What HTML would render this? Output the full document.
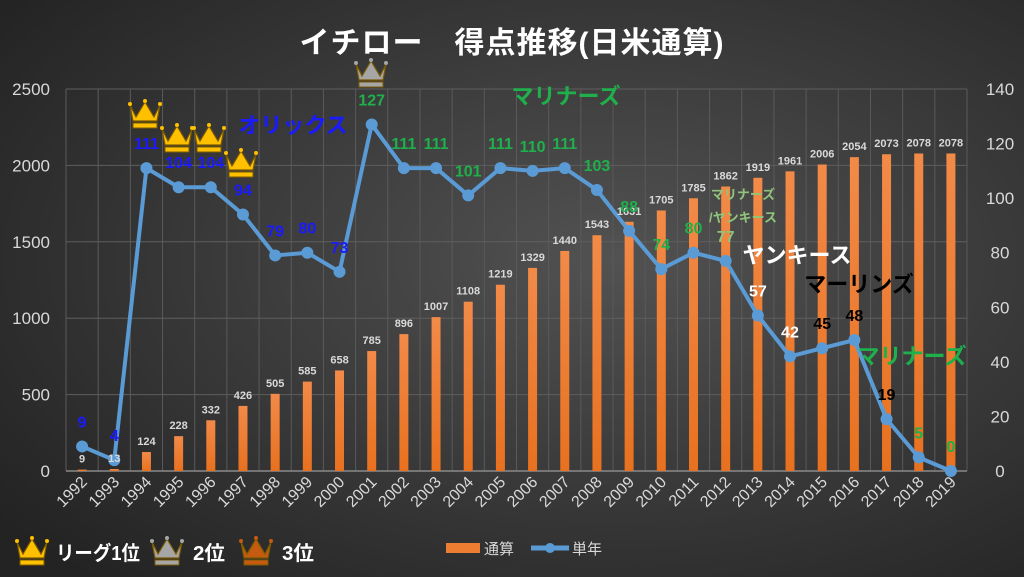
<!DOCTYPE html>
<html><head><meta charset="utf-8">
<style>
html,body{margin:0;padding:0;width:1024px;height:577px;overflow:hidden;background:#3a3a3a;}
svg{display:block;font-family:"Liberation Sans","Noto Sans CJK JP",sans-serif;}
</style></head>
<body>
<svg id="chart" width="1024" height="577" viewBox="0 0 1024 577">
<defs>
<radialGradient id="bg" cx="0.6" cy="0.45" r="0.75">
<stop offset="0" stop-color="#525252"/><stop offset="1" stop-color="#232323"/>
</radialGradient>
<linearGradient id="barg" x1="0" y1="0" x2="0" y2="1">
<stop offset="0" stop-color="#f28a48"/><stop offset="1" stop-color="#e8711f"/>
</linearGradient>
<g id="crown">
<path d="M-15,-8 L-9,4 L0,-11 L9,4 L15,-8 L12,8 L-12,8 Z" stroke="#7a5a00" stroke-width="1.2"/>
<circle cx="-15" cy="-9" r="2"/><circle cx="0" cy="-12" r="2"/><circle cx="15" cy="-9" r="2"/>
<rect x="-12" y="10" width="24" height="5" stroke="#7a5a00" stroke-width="1"/>
</g>
</defs>
<rect width="1024" height="577" fill="url(#bg)"/>
<text x="512" y="53" text-anchor="middle" font-size="30" font-weight="bold" fill="#fff" letter-spacing="1">イチロー　得点推移(日米通算)</text>
<g id="grid"></g><g id="bars"></g><g id="line"></g><g id="labels"></g><g id="axes"></g>
<g>
<text x="293" y="133" text-anchor="middle" font-size="22" font-weight="bold" fill="#1a1aff">オリックス</text>
<text x="566" y="104" text-anchor="middle" font-size="22" font-weight="bold" fill="#1fb04c">マリナーズ</text>
<text x="743" y="199" text-anchor="middle" font-size="13" font-weight="bold" fill="#8fc47a">マリナーズ</text>
<text x="743" y="222" text-anchor="middle" font-size="13" font-weight="bold" fill="#8fc47a">/ヤンキース</text>
<text x="797" y="263" text-anchor="middle" font-size="22" font-weight="bold" fill="#fff">ヤンキース</text>
<text x="859" y="292" text-anchor="middle" font-size="22" font-weight="bold" fill="#000">マーリンズ</text>
<text x="912" y="364" text-anchor="middle" font-size="22" font-weight="bold" fill="#1fb04c">マリナーズ</text>
</g>
<g>
<use href="#crown" x="145" y="113" fill="#ffc000"/>
<use href="#crown" x="177" y="137" fill="#ffc000"/>
<use href="#crown" x="209" y="137" fill="#ffc000"/>
<use href="#crown" x="241" y="162" fill="#ffc000"/>
<use href="#crown" x="371" y="72" fill="#a6a6a6"/>
</g>
<g>
<use href="#crown" x="32" y="550" fill="#ffc000"/>
<text x="56" y="560" font-size="20" font-weight="bold" fill="#fff" textLength="84" lengthAdjust="spacingAndGlyphs">リーグ1位</text>
<use href="#crown" x="167" y="550" fill="#a6a6a6"/>
<text x="193" y="560" font-size="20" font-weight="bold" fill="#fff" textLength="32" lengthAdjust="spacingAndGlyphs">2位</text>
<use href="#crown" x="256" y="550" fill="#c55a11"/>
<text x="282" y="560" font-size="20" font-weight="bold" fill="#fff" textLength="32" lengthAdjust="spacingAndGlyphs">3位</text>
</g>
<g>
<rect x="446" y="543" width="34" height="10" fill="#ed7d31"/>
<text x="484" y="554" font-size="15" fill="#d9d9d9">通算</text>
<line x1="531" y1="548" x2="569" y2="548" stroke="#5b9bd5" stroke-width="5"/>
<circle cx="550" cy="548" r="5" fill="#5b9bd5"/>
<text x="572" y="554" font-size="15" fill="#d9d9d9">単年</text>
</g>
</svg>
<script>
const years=[1992,1993,1994,1995,1996,1997,1998,1999,2000,2001,2002,2003,2004,2005,2006,2007,2008,2009,2010,2011,2012,2013,2014,2015,2016,2017,2018,2019];
const cumulative=[9,13,124,228,332,426,505,585,658,785,896,1007,1108,1219,1329,1440,1543,1631,1705,1785,1862,1919,1961,2006,2054,2073,2078,2078];
const annual=[9,4,111,104,104,94,79,80,73,127,111,111,101,111,110,111,103,88,74,80,77,57,42,45,48,19,5,0];
const annualColors=["#1a1aff","#1a1aff","#1a1aff","#1a1aff","#1a1aff","#1a1aff","#1a1aff","#1a1aff","#1a1aff","#1fb04c","#1fb04c","#1fb04c","#1fb04c","#1fb04c","#1fb04c","#1fb04c","#1fb04c","#1fb04c","#1fb04c","#1fb04c","#8fc47a","#fff","#fff","#000","#000","#000","#1fb04c","#1fb04c"];
const leftTicks=[0,500,1000,1500,2000,2500];
const rightTicks=[0,20,40,60,80,100,120,140];
const NS="http://www.w3.org/2000/svg";
const L=66,R=967,T=89,B=471;
const band=(R-L)/years.length;
const x=i=>L+band*(i+0.5);
const yL=v=>B-(v/2500)*(B-T);
const yR=v=>B-(v/140)*(B-T);
function mk(tag,attrs,parent,txt){const e=document.createElementNS(NS,tag);for(const k in attrs)e.setAttribute(k,attrs[k]);if(txt!==undefined)e.textContent=txt;parent.appendChild(e);return e;}
const grid=document.getElementById('grid'),bars=document.getElementById('bars'),line=document.getElementById('line'),labels=document.getElementById('labels'),axes=document.getElementById('axes');
for(let i=0;i<=years.length;i++){const g=mk('line',{x1:L+band*i,x2:L+band*i,y1:T,y2:B,stroke:'#5a5a5a','stroke-width':1},grid);

}
leftTicks.forEach(v=>{const g=mk('line',{x1:L,x2:R,y1:yL(v),y2:yL(v),stroke:v===0?'#8a8a8a':'#5e5e5e','stroke-width':v===0?1.5:1},grid);


const t=mk('text',{x:50,y:yL(v)+6,'text-anchor':'end','font-size':17,fill:'#d9d9d9'},axes,v);

});
rightTicks.forEach(v=>{const t=mk('text',{x:1000,y:yR(v)+6,'text-anchor':'middle','font-size':17,fill:'#d9d9d9'},axes,v);

});
years.forEach((yr,i)=>{const t=mk('text',{x:0,y:0,'text-anchor':'end','font-size':16,fill:'#d9d9d9',transform:`translate(${x(i)+6},${B+12}) rotate(-45)`},axes,yr);

});
cumulative.forEach((v,i)=>{const b=mk('rect',{x:x(i)-4.5,y:yL(v),width:9,height:B-yL(v),fill:'url(#barg)'},bars);


const t=mk('text',{x:x(i),y:yL(v)-7,'text-anchor':'middle','font-size':11,'font-weight':'bold',fill:'#d9d9d9'},labels,v);

});
const pl=mk('polyline',{points:annual.map((v,i)=>x(i)+','+yR(v)).join(' '),fill:'none',stroke:'#5b9bd5','stroke-width':4,'stroke-linejoin':'round'},line);


annual.forEach((v,i)=>{const c=mk('circle',{cx:x(i),cy:yR(v),r:6,fill:'#5b9bd5'},line);


const t=mk('text',{x:x(i),y:yR(v)-19,'text-anchor':'middle','font-size':16,'font-weight':'bold',fill:annualColors[i]},labels,v);

});
</script>
</body></html>
